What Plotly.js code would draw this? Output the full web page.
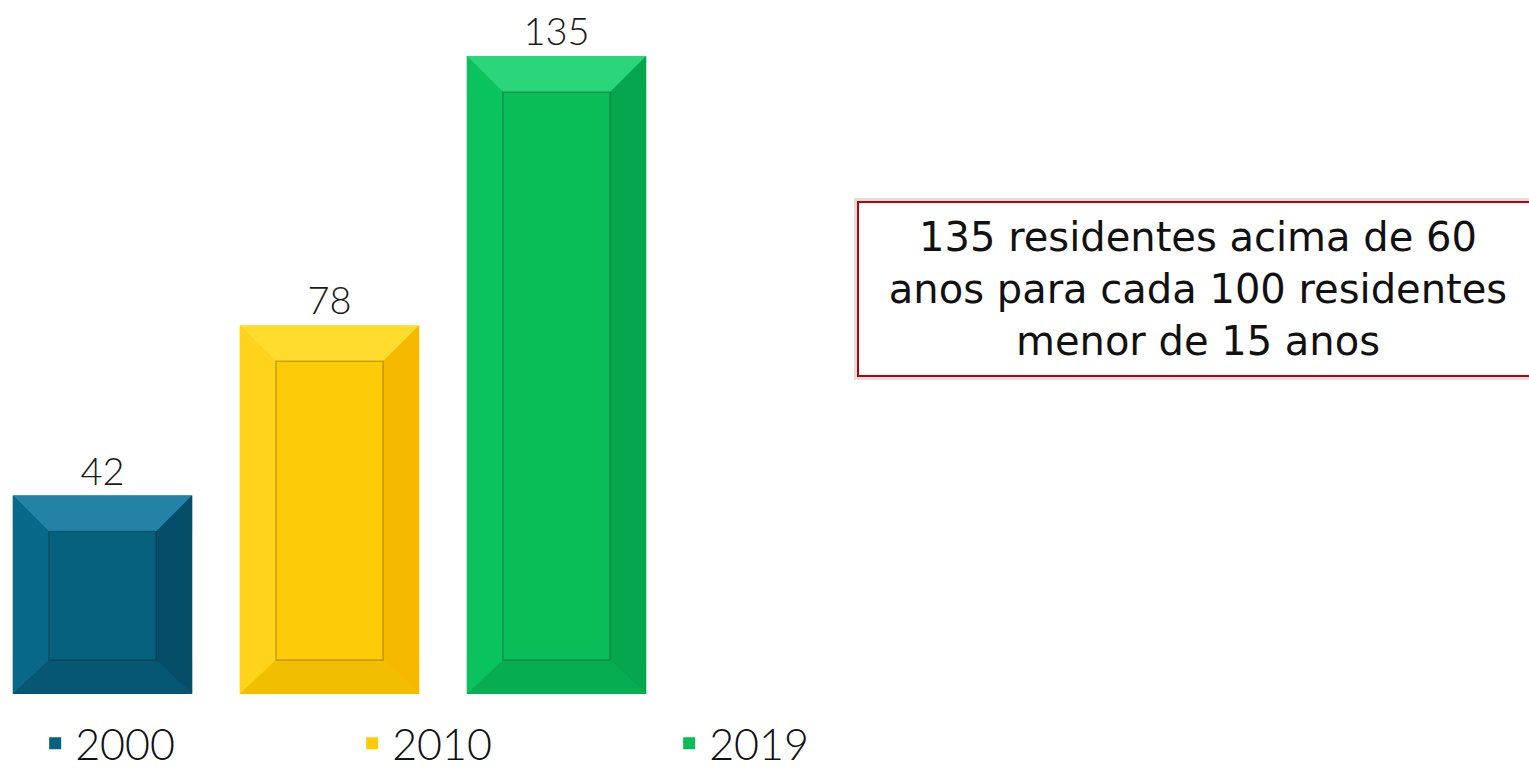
<!DOCTYPE html>
<html>
<head>
<meta charset="utf-8">
<script src="https://cdn.plot.ly/plotly-3.0.1.min.js"></script>
<style>
  html, body { margin: 0; padding: 0; background: #fff; }
  #chart { width: 1529px; height: 772px; }
</style>
</head>
<body>
<div id="chart"></div>
<script>
// data
var years = ['2000', '2010', '2019'];
var values = [42, 78, 135];
var faceColors = ['#06617f', '#fecb08', '#09bd59'];
var topColors = ['#2382a5', '#ffdc2e', '#2bd67a'];
var leftColors = ['#08688a', '#ffd31c', '#0bc35e'];
var rightColors = ['#044e69', '#f6b900', '#06a64c'];
var bottomColors = ['#055773', '#f1bf00', '#07ad51'];
var noteText = '135 residentes acima de 60<br>anos para cada 100 residentes<br>menor de 15 anos';

var barWidth = 0.79;
var dx = 0.159;   // bevel inset, category units
var dy = 7.6;     // bevel inset, value units

var traces = years.map(function (yr, i) {
  return {
    type: 'bar',
    name: yr,
    x: [i],
    y: [values[i]],
    width: barWidth,
    marker: { color: faceColors[i], line: { width: 0 } },
    text: [String(values[i])],
    textposition: 'outside',
    cliponaxis: false,
    textfont: { family: 'Lato', size: 38, weight: 300, color: '#1a1a1a' },
    hoverinfo: 'skip'
  };
});

// bevel facets built from the values
var shapes = [];
function poly(pts, color) {
  var d = 'M' + pts.map(function (p) { return p[0] + ',' + p[1]; }).join(' L') + ' Z';
  shapes.push({ type: 'path', xref: 'x', yref: 'y', path: d, fillcolor: color,
                line: { width: 0 }, layer: 'above' });
}
values.forEach(function (v, i) {
  var hw = barWidth / 2;
  var x0 = i - hw, x1 = i + hw, ix0 = x0 + dx, ix1 = x1 - dx;
  var iy0 = dy * 0.95, iy1 = v - dy;
  poly([[x0, v], [x1, v], [ix1, iy1], [ix0, iy1]], topColors[i]);
  poly([[x0, 0], [x0, v], [ix0, iy1], [ix0, iy0]], leftColors[i]);
  poly([[x1, 0], [x1, v], [ix1, iy1], [ix1, iy0]], rightColors[i]);
  poly([[x0, 0], [x1, 0], [ix1, iy0], [ix0, iy0]], bottomColors[i]);
  shapes.push({ type: 'rect', xref: 'x', yref: 'y', x0: ix0, x1: ix1, y0: iy0, y1: iy1,
                fillcolor: faceColors[i], line: { color: 'rgba(0,0,0,0.22)', width: 1.5 }, layer: 'above' });
});

// soft shadow behind the note box
shapes.push({ type: 'rect', xref: 'paper', yref: 'paper',
              x0: 854 / 1529, x1: 1.02, y0: (694 - 380) / 694, y1: (694 - 198) / 694,
              fillcolor: 'rgba(0,0,0,0.12)', line: { width: 0 }, layer: 'below' });

var layout = {
  width: 1529,
  height: 772,
  margin: { l: 0, r: 0, t: 0, b: 78, autoexpand: false },
  paper_bgcolor: '#ffffff',
  plot_bgcolor: 'rgba(0,0,0,0)',
  barmode: 'overlay',
  showlegend: true,
  xaxis: { range: [-0.4515, 6.284], showgrid: false, zeroline: false, showticklabels: false,
           showline: false, fixedrange: true },
  yaxis: { range: [0, 146.85], showgrid: false, zeroline: false, showticklabels: false,
           showline: false, fixedrange: true },
  legend: {
    orientation: 'h',
    x: 0.023, xanchor: 'left',
    y: -0.071, yanchor: 'middle',
    entrywidth: 272,
    font: { family: 'Lato', size: 43, weight: 300, color: '#111' },
    bgcolor: 'rgba(0,0,0,0)'
  },
  shapes: shapes,
  annotations: [{
    xref: 'paper', yref: 'paper',
    x: 1198 / 1529, y: (694 - 289) / 694,
    xanchor: 'center', yanchor: 'middle',
    text: noteText,
    showarrow: false,
    align: 'center',
    width: 676,
    height: 170,
    bgcolor: '#ffffff',
    bordercolor: '#c00000',
    borderwidth: 2,
    font: { family: 'DejaVu Sans', size: 40, color: '#111' }
  }]
};

Plotly.newPlot('chart', traces, layout, { displayModeBar: false, staticPlot: true });
</script>
</body>
</html>
